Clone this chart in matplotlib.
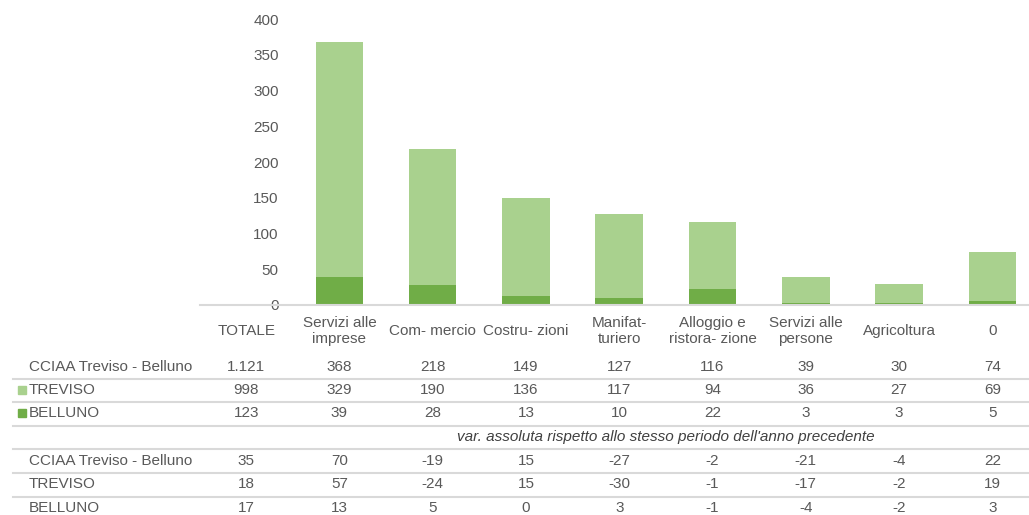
import numpy as np
import matplotlib
matplotlib.use('Agg')
from matplotlib import pyplot as plt
from matplotlib import transforms

plt.rcParams['font.family'] = ['Liberation Sans', 'DejaVu Sans']

# dati
categorie = ['TOTALE', 'Servizi alle\nimprese', 'Com- mercio', 'Costru- zioni',
             'Manifat-\nturiero', 'Alloggio e\nristora- zione', 'Servizi alle\npersone',
             'Agricoltura', '0']
totale = [1121, 368, 218, 149, 127, 116, 39, 30, 74]
treviso = [998, 329, 190, 136, 117, 94, 36, 27, 69]
belluno = [123, 39, 28, 13, 10, 22, 3, 3, 5]
var_totale = [35, 70, -19, 15, -27, -2, -21, -4, 22]
var_treviso = [18, 57, -24, 15, -30, -1, -17, -2, 19]
var_belluno = [17, 13, 5, 0, 3, -1, -4, -2, 3]
nota = "var. assoluta rispetto allo stesso periodo dell'anno precedente"

grigio = '#595959'
chiaro = '#A9D18E'
scuro = '#70AD47'
linea = '#D9D9D9'
fs = 11

W, H = 1029, 515
fig = plt.figure(figsize=(W / 100, H / 100), dpi=100)
ax = fig.add_axes([199.5 / W, (H - 305) / H, 839.5 / W, 286 / H])

x = np.arange(len(categorie))
# il TOTALE non ha barra nel grafico
ax.bar(x[1:], belluno[1:], 0.51, color=scuro, zorder=2)
ax.bar(x[1:], treviso[1:], 0.51, bottom=belluno[1:], color=chiaro, zorder=2)

ax.set_xlim(-0.5, len(categorie) - 0.5)
ax.set_ylim(0, 400)
ax.set_yticks(range(0, 401, 50))
ax.tick_params(axis='y', pad=-57, length=0, labelsize=fs, labelcolor=grigio)
ax.set_xticks(x)
ax.set_xticklabels(categorie, fontsize=fs, color=grigio, linespacing=1.2)
for t in ax.get_xticklabels():
    t.set_va('center')
ax.tick_params(axis='x', pad=19, length=0)
for s in ['top', 'right', 'left']:
    ax.spines[s].set_visible(False)
ax.spines['bottom'].set_color(linea)
ax.spines['bottom'].set_linewidth(1.5)
ax.spines['bottom'].set_zorder(3)
ax.patch.set_alpha(0)

# tabella sotto il grafico
tr = transforms.blended_transform_factory(ax.transData, fig.transFigure)

def fy(py):
    return 1 - py / H

def fmt(v):
    return f'{v:,}'.replace(',', '.')

righe = [
    ('CCIAA Treviso - Belluno', totale, 367, None),
    ('TREVISO', treviso, 390, chiaro),
    ('BELLUNO', belluno, 413, scuro),
    ('CCIAA Treviso - Belluno', var_totale, 461, None),
    ('TREVISO', var_treviso, 484, None),
    ('BELLUNO', var_belluno, 508, None),
]
for nome, valori, py, col in righe:
    fig.text(29 / W, fy(py), nome, fontsize=fs, color=grigio, va='center', ha='left')
    if col is not None:
        fig.patches.append(plt.Rectangle((18 / W, fy(py + 4)), 8 / W, 8 / H,
                                         transform=fig.transFigure, color=col))
    for xi, v in zip(x, valori):
        ax.text(xi, fy(py), fmt(v), transform=tr, fontsize=fs, color=grigio,
                ha='center', va='center', clip_on=False)

ax.text(4.5, fy(437), nota, transform=tr, fontsize=fs, color='#404040',
        style='italic', ha='center', va='center', clip_on=False)

for py in [379, 402, 426, 449, 473, 497]:
    fig.add_artist(plt.Line2D([13 / W, 1], [fy(py), fy(py)], color=linea,
                              linewidth=1.5, transform=fig.transFigure))

fig.savefig('out.png', dpi=100)
